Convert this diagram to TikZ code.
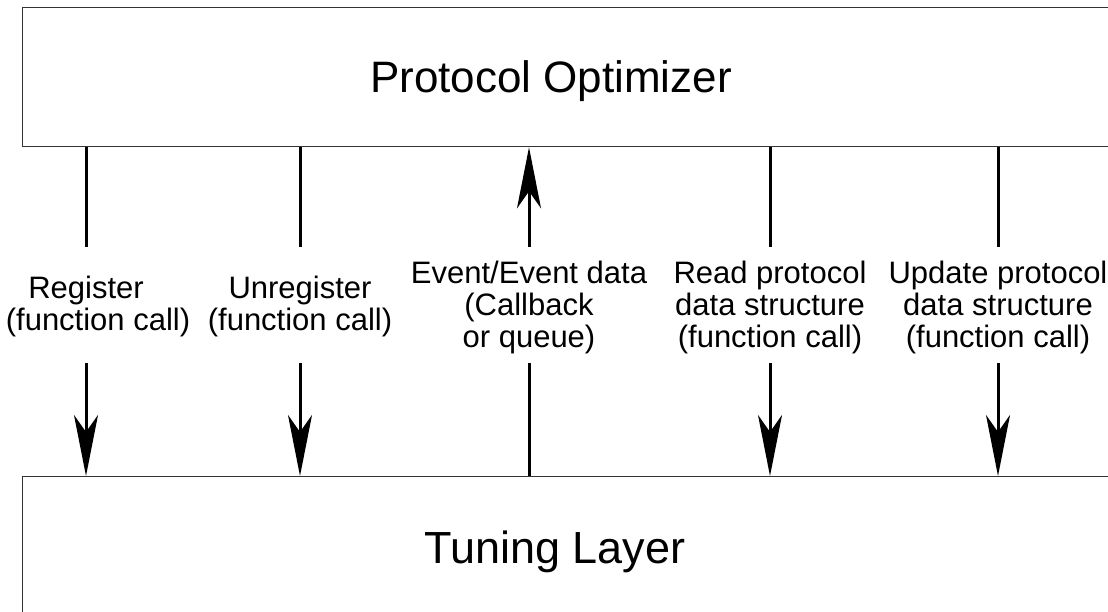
\documentclass[tikz,border=0pt]{standalone}
\usepackage{fontspec}
\setmainfont{Liberation Sans}
\usetikzlibrary{arrows.meta}
\begin{document}
\begin{tikzpicture}[x=1pt,y=-1pt,
  layerbox/.style={draw=black!80, line width=1.3pt, rectangle, anchor=north west, inner sep=0pt},
  conn/.style={line width=3pt, black},
  tipend/.style={-{Stealth[length=61pt,width=24pt,inset=17pt]}},
  tipstart/.style={{Stealth[length=61pt,width=24pt,inset=17pt]}-},
  lab/.style={align=center, font=\fontsize{31}{32}\selectfont, inner sep=0pt},
  ttl/.style={font=\fontsize{44}{50}\selectfont, inner sep=0pt, anchor=base}]
\useasboundingbox (0,0) rectangle (1108,612);
\clip (0,0) rectangle (1108,612);
% layers
\node[layerbox, minimum width=1130pt, minimum height=139pt] (po) at (22,7) {};
\node[layerbox, minimum width=1130pt, minimum height=200pt] (tl) at (22,476) {};
\node[ttl] (potext) at (551,93) {Protocol Optimizer};
\node[ttl, font=\fontsize{45}{50}\selectfont] (tltext) at (555,563) {Tuning Layer};
% labels
\node[lab] (l1) at (98,306) {Register\hspace*{24pt}\\(function call)};
\node[lab] (l2) at (300,306) {Unregister\\(function call)};
\node[lab] (l3) at (529,307) {Event/Event data\\(Callback\\or queue)};
\node[lab] (l4) at (770,307) {Read protocol\\data structure\\(function call)};
\node[lab] (l5) at (998,307) {Update protocol\\data structure\\(function call)};
% segment ends
\coordinate (u1) at (86,247);  \coordinate (d1) at (86,363);
\coordinate (u2) at (300,247); \coordinate (d2) at (300,363);
\coordinate (u3) at (529,247); \coordinate (d3) at (529,363);
\coordinate (u4) at (770,247); \coordinate (d4) at (770,363);
\coordinate (u5) at (998,247); \coordinate (d5) at (998,363);
% connectors
\draw[conn] (po.south -| u1) -- (u1);
\draw[conn,tipend] (d1) -- (tl.north -| d1);
\draw[conn] (po.south -| l2) -- (u2);
\draw[conn,tipend] (d2) -- (tl.north -| l2);
\draw[conn,tipstart] (po.south -| l3) -- (u3);
\draw[conn] (d3) -- (tl.north -| l3);
\draw[conn] (po.south -| l4) -- (u4);
\draw[conn,tipend] (d4) -- (tl.north -| l4);
\draw[conn] (po.south -| l5) -- (u5);
\draw[conn,tipend] (d5) -- (tl.north -| l5);
\end{tikzpicture}
\end{document}
